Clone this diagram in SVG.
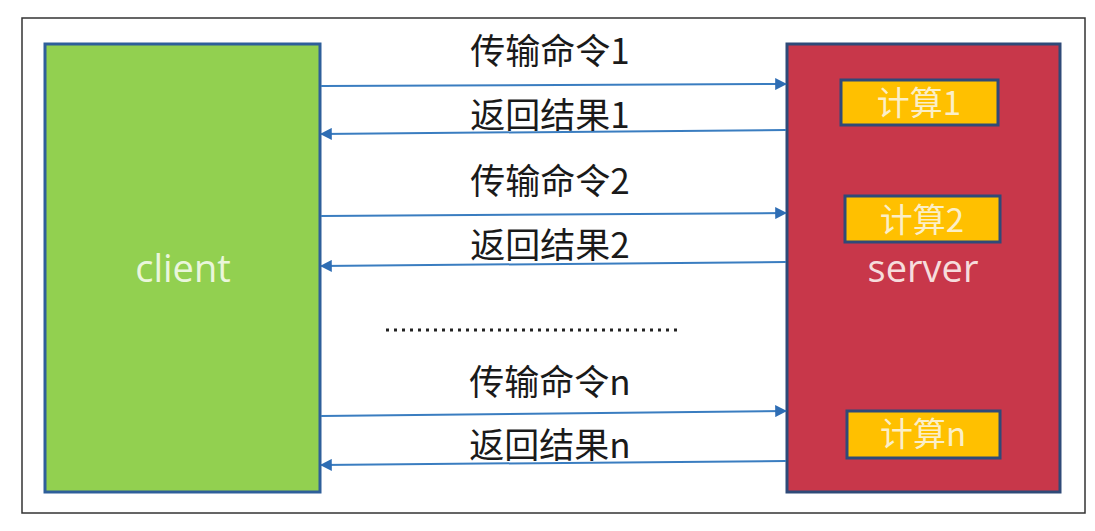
<svg xmlns="http://www.w3.org/2000/svg" width="1095" height="531" viewBox="0 0 1095 531">
<defs>
<style>
.lbl{font-family:"Noto Sans CJK SC","Noto Sans",sans-serif;font-size:35px;fill:#1a1a1a;text-anchor:middle}
.calc{font-family:"Noto Sans CJK SC","Noto Sans",sans-serif;font-size:33px;fill:#FBEFC8;text-anchor:middle}
.box{fill:#FFC000;stroke:#2F4A78;stroke-width:3}
.ar{stroke:#3A7DC0;stroke-width:2;fill:none}
</style>
<marker id="ah" viewBox="0 0 10 10" refX="9" refY="5" markerWidth="6" markerHeight="6" orient="auto"><path d="M0,0L10,5L0,10z" fill="#2E6DB4"/></marker>
</defs>
<rect width="1095" height="531" fill="#fff"/>
<rect x="22" y="18" width="1063" height="495" fill="none" stroke="#333" stroke-width="1.5"/>
<g id="client">
<rect x="45" y="44" width="275" height="448" fill="#92D050" stroke="#2E5F9A" stroke-width="3"/>
<text x="183" y="282" font-family="'Open Sans','Noto Sans',sans-serif" font-size="38" fill="#EAF6DC" text-anchor="middle">client</text>
</g>
<g id="server">
<rect x="787" y="44" width="273" height="448" fill="#C8374A" stroke="#2F4A78" stroke-width="3"/>
<text x="923" y="282" font-family="'Open Sans','Noto Sans',sans-serif" font-size="38" fill="#F6DCDC" text-anchor="middle">server</text>
</g>
<g id="calc1"><rect class="box" x="841" y="80" width="157" height="45"/><text class="calc" x="919" y="115">计算1</text></g>
<g id="calc2"><rect class="box" x="845" y="196" width="155" height="46"/><text class="calc" x="922" y="232">计算2</text></g>
<g id="calcn"><rect class="box" x="847" y="411" width="153" height="47"/><text class="calc" x="923" y="446">计算n</text></g>
<g id="connectors">
<line class="ar" x1="321" y1="86" x2="786" y2="84" marker-end="url(#ah)"/>
<line class="ar" x1="786" y1="130" x2="321" y2="134" marker-end="url(#ah)"/>
<line class="ar" x1="321" y1="216" x2="786" y2="213" marker-end="url(#ah)"/>
<line class="ar" x1="786" y1="262" x2="321" y2="266" marker-end="url(#ah)"/>
<line class="ar" x1="321" y1="416" x2="786" y2="411" marker-end="url(#ah)"/>
<line class="ar" x1="786" y1="461" x2="321" y2="465" marker-end="url(#ah)"/>
</g>
<g id="labels">
<text class="lbl" x="550" y="64">传输命令1</text>
<text class="lbl" x="550" y="128">返回结果1</text>
<text class="lbl" x="550" y="194">传输命令2</text>
<text class="lbl" x="550" y="258">返回结果2</text>
<text class="lbl" x="550" y="395">传输命令n</text>
<text class="lbl" x="550" y="458">返回结果n</text>
<line x1="386" y1="330" x2="680" y2="330" stroke="#222" stroke-width="3" stroke-dasharray="3,5"/>
</g>
</svg>
